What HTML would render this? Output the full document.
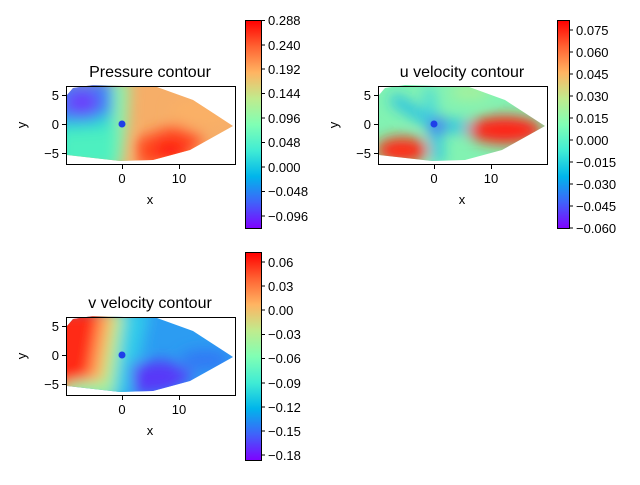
<!DOCTYPE html>
<html><head><meta charset="utf-8"><style>
body{margin:0;background:#fff;}
svg text{font-family:"Liberation Sans","DejaVu Sans",sans-serif;fill:#000;}
</style></head><body>
<svg width="640" height="480" xmlns="http://www.w3.org/2000/svg">
<defs>
<linearGradient id="rb" x1="0" y1="1" x2="0" y2="0">
<stop offset="0" stop-color="#8000ff"/><stop offset="0.125" stop-color="#4062fa"/>
<stop offset="0.25" stop-color="#00b5eb"/><stop offset="0.375" stop-color="#40ecd4"/>
<stop offset="0.5" stop-color="#80ffb4"/><stop offset="0.625" stop-color="#c0eb8d"/>
<stop offset="0.75" stop-color="#ffb462"/><stop offset="0.875" stop-color="#ff6232"/>
<stop offset="1" stop-color="#ff0000"/></linearGradient>
<filter id="bl" x="-20%" y="-20%" width="140%" height="140%"><feGaussianBlur stdDeviation="7"/></filter>
<clipPath id="h1"><polygon points="67,95 73,88 93,85 157,87 193,100 233,126 190,150 153,160 120,161 67,155"/></clipPath>
<clipPath id="h2"><polygon points="379,95 385,88 405,85 469,87 505,100 545,126 502,150 465,160 432,161 379,155"/></clipPath>
<clipPath id="h3"><polygon points="67,326 73,319 93,316 157,318 193,331 233,357 190,381 153,391 120,392 67,386"/></clipPath>
</defs>

<!-- Plot 1 pressure -->
<g clip-path="url(#h1)">
<rect x="60" y="80" width="180" height="90" fill="#f6ae68"/>
<g filter="url(#bl)">
<polygon points="50,80 118,80 116,124 112,170 50,170" fill="#30dccf"/>
<polygon points="112,80 130,80 128,124 122,170 108,170 114,124" fill="#8ef2a8"/>
<polygon points="50,80 112,80 112,112 90,122 50,122" fill="#3d80f6"/>
<ellipse cx="82" cy="102" rx="17" ry="12" fill="#6a3cfb"/>
<polygon points="60,132 118,128 116,170 60,170" fill="#4ef0c0"/>
<polygon points="135,140 175,125 205,138 185,160 140,168" fill="#ff4a22"/>
<ellipse cx="170" cy="150" rx="16" ry="9" fill="#ff140c"/>
<ellipse cx="200" cy="112" rx="30" ry="14" fill="#fab066"/>
</g>
</g>
<circle cx="122" cy="124" r="3.5" fill="#1f3fe8"/>
<rect x="66.5" y="86.5" width="169" height="78" fill="none" stroke="#000" stroke-width="1"/>
<text x="150" y="77" font-size="16" text-anchor="middle">Pressure contour</text>

<!-- Plot 2 u -->
<g clip-path="url(#h2)">
<rect x="370" y="80" width="180" height="90" fill="#82f2b2"/>
<g filter="url(#bl)">
<polyline points="392,98 434,124 470,128" fill="none" stroke="#20bce8" stroke-width="11"/>
<polyline points="434,124 438,162" fill="none" stroke="#20c0e8" stroke-width="11"/>
<polyline points="434,124 428,88" fill="none" stroke="#40d4e0" stroke-width="9"/>
<circle cx="437" cy="126" r="8" fill="#4858f8"/>
<ellipse cx="402" cy="150" rx="26" ry="13" fill="#ff2a14"/>
<ellipse cx="505" cy="130" rx="37" ry="14" fill="#ff2212"/>
<ellipse cx="470" cy="92" rx="20" ry="8" fill="#a8f09a"/>
</g>
</g>
<circle cx="434" cy="124" r="3.5" fill="#1f3fe8"/>
<rect x="378.5" y="86.5" width="169" height="78" fill="none" stroke="#000" stroke-width="1"/>
<text x="462" y="77" font-size="16" text-anchor="middle">u velocity contour</text>

<!-- Plot 3 v -->
<g clip-path="url(#h3)">
<rect x="60" y="310" width="180" height="90" fill="#2c9cf2"/>
<g filter="url(#bl)">
<polygon points="50,310 114,310 118,355 100,400 50,400" fill="#ff2a16"/>
<polygon points="100,310 118,310 122,355 105,400 75,400 90,370" fill="#ffa85c"/>
<polygon points="114,310 128,310 126,355 115,400 98,400" fill="#b0f090"/>
<ellipse cx="85" cy="390" rx="25" ry="9" fill="#90f4a8"/>
<polygon points="125,310 150,310 140,355 125,400 112,400" fill="#30ccea"/>
<polygon points="130,365 165,360 195,375 170,392 135,395" fill="#5838f8"/>
<ellipse cx="205" cy="360" rx="25" ry="10" fill="#3078f4"/>
</g>
</g>
<circle cx="122" cy="355" r="3.5" fill="#1f3fe8"/>
<rect x="66.5" y="317.5" width="169" height="78" fill="none" stroke="#000" stroke-width="1"/>
<text x="150" y="308" font-size="16" text-anchor="middle">v velocity contour</text>

<g font-size="13" stroke-width="1">
<g stroke="#000"><line x1="122.5" y1="165" x2="122.5" y2="169"/><line x1="179.5" y1="165" x2="179.5" y2="169"/>
<line x1="62" y1="95.5" x2="66" y2="95.5"/><line x1="62" y1="124.5" x2="66" y2="124.5"/><line x1="62" y1="153.5" x2="66" y2="153.5"/></g>
<text x="122" y="183" text-anchor="middle">0</text><text x="179" y="183" text-anchor="middle">10</text>
<text x="59" y="100" text-anchor="end">5</text><text x="59" y="129" text-anchor="end">0</text><text x="59" y="158" text-anchor="end">−5</text>
<text x="150" y="204" text-anchor="middle">x</text><text transform="translate(26,125) rotate(-90)" text-anchor="middle">y</text>
<g stroke="#000"><line x1="434.5" y1="165" x2="434.5" y2="169"/><line x1="491.5" y1="165" x2="491.5" y2="169"/>
<line x1="374" y1="95.5" x2="378" y2="95.5"/><line x1="374" y1="124.5" x2="378" y2="124.5"/><line x1="374" y1="153.5" x2="378" y2="153.5"/></g>
<text x="434" y="183" text-anchor="middle">0</text><text x="491" y="183" text-anchor="middle">10</text>
<text x="371" y="100" text-anchor="end">5</text><text x="371" y="129" text-anchor="end">0</text><text x="371" y="158" text-anchor="end">−5</text>
<text x="462" y="204" text-anchor="middle">x</text><text transform="translate(338,125) rotate(-90)" text-anchor="middle">y</text>
<g stroke="#000"><line x1="122.5" y1="396" x2="122.5" y2="400"/><line x1="179.5" y1="396" x2="179.5" y2="400"/>
<line x1="62" y1="326.5" x2="66" y2="326.5"/><line x1="62" y1="355.5" x2="66" y2="355.5"/><line x1="62" y1="384.5" x2="66" y2="384.5"/></g>
<text x="122" y="414" text-anchor="middle">0</text><text x="179" y="414" text-anchor="middle">10</text>
<text x="59" y="331" text-anchor="end">5</text><text x="59" y="360" text-anchor="end">0</text><text x="59" y="389" text-anchor="end">−5</text>
<text x="150" y="435" text-anchor="middle">x</text><text transform="translate(26,356) rotate(-90)" text-anchor="middle">y</text>
</g>

<rect x="245.5" y="20.5" width="16" height="208" fill="url(#rb)" stroke="#000"/>
<rect x="557.5" y="20.5" width="12" height="208" fill="url(#rb)" stroke="#000"/>
<rect x="245.5" y="252.5" width="16" height="208" fill="url(#rb)" stroke="#000"/>
<g font-size="13">
<g stroke="#000">
<line x1="261" y1="20.5" x2="265" y2="20.5"/><line x1="261" y1="45" x2="265" y2="45"/><line x1="261" y1="69" x2="265" y2="69"/><line x1="261" y1="93.5" x2="265" y2="93.5"/><line x1="261" y1="118" x2="265" y2="118"/><line x1="261" y1="142.5" x2="265" y2="142.5"/><line x1="261" y1="167" x2="265" y2="167"/><line x1="261" y1="191.5" x2="265" y2="191.5"/><line x1="261" y1="216" x2="265" y2="216"/>
</g>
<text x="268" y="25">0.288</text><text x="268" y="50">0.240</text><text x="268" y="74">0.192</text><text x="268" y="98">0.144</text><text x="268" y="123">0.096</text><text x="268" y="147">0.048</text><text x="268" y="172">0.000</text><text x="268" y="196">−0.048</text><text x="268" y="221">−0.096</text>
<g stroke="#000">
<line x1="569" y1="30" x2="573" y2="30"/><line x1="569" y1="52" x2="573" y2="52"/><line x1="569" y1="74" x2="573" y2="74"/><line x1="569" y1="96" x2="573" y2="96"/><line x1="569" y1="118" x2="573" y2="118"/><line x1="569" y1="140" x2="573" y2="140"/><line x1="569" y1="162" x2="573" y2="162"/><line x1="569" y1="184" x2="573" y2="184"/><line x1="569" y1="206" x2="573" y2="206"/><line x1="569" y1="228" x2="573" y2="228"/>
</g>
<text x="576" y="35">0.075</text><text x="576" y="57">0.060</text><text x="576" y="79">0.045</text><text x="576" y="101">0.030</text><text x="576" y="123">0.015</text><text x="576" y="145">0.000</text><text x="576" y="167">−0.015</text><text x="576" y="189">−0.030</text><text x="576" y="211">−0.045</text><text x="576" y="233">−0.060</text>
<g stroke="#000">
<line x1="261" y1="262" x2="265" y2="262"/><line x1="261" y1="286" x2="265" y2="286"/><line x1="261" y1="310" x2="265" y2="310"/><line x1="261" y1="334.5" x2="265" y2="334.5"/><line x1="261" y1="358.5" x2="265" y2="358.5"/><line x1="261" y1="383" x2="265" y2="383"/><line x1="261" y1="407" x2="265" y2="407"/><line x1="261" y1="431" x2="265" y2="431"/><line x1="261" y1="455" x2="265" y2="455"/>
</g>
<text x="268" y="267">0.06</text><text x="268" y="291">0.03</text><text x="268" y="315">0.00</text><text x="268" y="339">−0.03</text><text x="268" y="363">−0.06</text><text x="268" y="388">−0.09</text><text x="268" y="412">−0.12</text><text x="268" y="436">−0.15</text><text x="268" y="460">−0.18</text>
</g>
</svg>
</body></html>
